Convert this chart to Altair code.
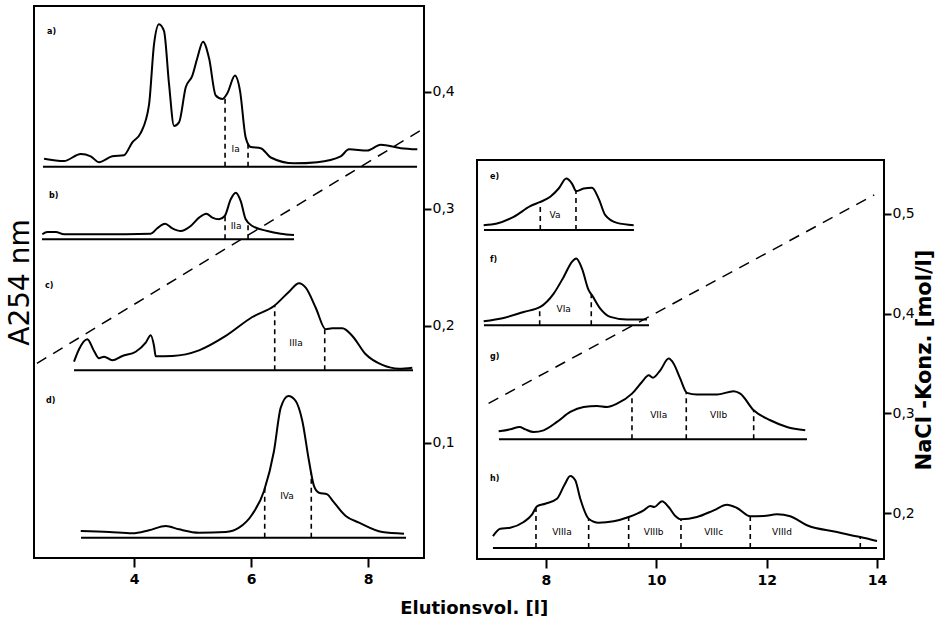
import altair as alt
import pandas as pd

# ---------------- left panel (a-d) ----------------
a_x = [2.462, 2.803, 3.089, 3.260, 3.402, 3.629, 3.829, 3.971, 4.115, 4.256, 4.342, 4.427, 4.513, 4.598,
       4.684, 4.769, 4.884, 4.997, 5.082, 5.179, 5.282, 5.397, 5.509, 5.595, 5.726, 5.812, 5.909, 5.995,
       6.166, 6.337, 6.735, 7.133, 7.533, 7.675, 7.988, 8.217, 8.559, 8.843]
a_y = [0.343, 0.341, 0.347, 0.345, 0.340, 0.345, 0.346, 0.357, 0.365, 0.389, 0.441, 0.458, 0.452, 0.407,
       0.371, 0.374, 0.404, 0.414, 0.429, 0.443, 0.429, 0.397, 0.394, 0.399, 0.414, 0.401, 0.361, 0.353,
       0.352, 0.344, 0.339, 0.340, 0.345, 0.351, 0.350, 0.355, 0.352, 0.351]

b_x = [2.432, 2.518, 2.662, 2.803, 3.431, 4.285, 4.398, 4.530, 4.655, 4.798, 4.969, 5.111, 5.236, 5.338,
       5.453, 5.550, 5.653, 5.738, 5.824, 5.909, 6.022, 6.279, 6.508, 6.735]
b_y = [0.2784, 0.2803, 0.2803, 0.2784, 0.2784, 0.2789, 0.2835, 0.2874, 0.2835, 0.2812, 0.2855, 0.2926,
       0.2960, 0.2926, 0.2912, 0.2940, 0.3083, 0.3139, 0.3068, 0.2912, 0.2855, 0.2812, 0.2789, 0.2778]

c_x = [2.974, 3.060, 3.202, 3.316, 3.402, 3.487, 3.629, 3.800, 4.029, 4.200, 4.285, 4.342, 4.371, 4.655,
       5.111, 5.568, 6.022, 6.393, 6.650, 6.821, 6.935, 7.106, 7.277, 7.390, 7.561, 7.732, 7.961, 8.244,
       8.530, 8.757]
c_y = [0.1695, 0.1801, 0.1886, 0.1786, 0.1724, 0.1738, 0.1707, 0.1744, 0.1780, 0.1857, 0.1921, 0.1829,
       0.1741, 0.1744, 0.1792, 0.1915, 0.2077, 0.2171, 0.2293, 0.2365, 0.2327, 0.2156, 0.1972, 0.1980,
       0.1980, 0.1915, 0.1758, 0.1667, 0.1635, 0.1644]

d_x = [3.089, 3.573, 3.971, 4.256, 4.542, 4.769, 5.111, 5.568, 5.795, 6.022, 6.222, 6.393, 6.508, 6.638,
       6.764, 6.877, 6.991, 7.077, 7.162, 7.304, 7.390, 7.619, 7.846, 8.244, 8.615]
d_y = [0.0248, 0.0239, 0.0228, 0.0254, 0.0291, 0.0262, 0.0233, 0.0239, 0.0276, 0.0391, 0.0590, 0.0932,
       0.1302, 0.1402, 0.1359, 0.1188, 0.0846, 0.0632, 0.0575, 0.0561, 0.0510, 0.0376, 0.0319, 0.0239,
       0.0225]

# baselines: start, end, level
left_base_start = [2.444, 2.427, 2.974, 3.094]
left_base_end = [8.838, 6.735, 8.769, 8.650]
left_base_level = [0.336, 0.2741, 0.1621, 0.0191]

# fraction cut marks: x, baseline, top
left_cut_x = [5.556, 5.949, 5.556, 5.949, 6.405, 7.260, 6.234, 7.030]
left_cut_low = [0.336, 0.336, 0.2741, 0.2741, 0.1621, 0.1621, 0.0191, 0.0191]
left_cut_top = [0.396, 0.357, 0.295, 0.289, 0.2175, 0.199, 0.062, 0.075]

left_frac_text = ["Ia", "IIa", "IIIa", "IVa"]
left_frac_x = [5.738, 5.744, 6.769, 6.615]
left_frac_y = [0.3513, 0.2855, 0.1857, 0.0547]

left_letters = ["a)", "b)", "c)", "d)"]
left_letter_x = [2.513, 2.547, 2.479, 2.496]
left_letter_y = [0.4515, 0.3111, 0.2342, 0.1359]

nacl_left_x = [2.34, 8.957]
nacl_left_y = [0.168, 0.369]

# ---------------- right panel (e-h) ----------------
e_x = [6.871, 7.112, 7.415, 7.715, 7.897, 8.078, 8.230, 8.368, 8.471, 8.549, 8.683, 8.834, 8.955, 9.075,
       9.287, 9.590]
e_y = [0.4887, 0.4903, 0.4970, 0.5077, 0.5120, 0.5171, 0.5254, 0.5354, 0.5304, 0.5228, 0.5254, 0.5261,
       0.5153, 0.4987, 0.4910, 0.4887]

f_x = [6.871, 7.233, 7.596, 7.897, 8.140, 8.321, 8.471, 8.549, 8.653, 8.774, 8.834, 8.984, 9.166, 9.468,
       9.831]
f_y = [0.3924, 0.3957, 0.4017, 0.4067, 0.4201, 0.4368, 0.4519, 0.4552, 0.4451, 0.4235, 0.4185, 0.4050,
       0.3967, 0.3940, 0.3940]

g_x = [7.143, 7.353, 7.523, 7.625, 7.777, 7.958, 8.199, 8.440, 8.683, 8.924, 9.106, 9.287, 9.559, 9.740,
       9.862, 9.939, 10.072, 10.224, 10.315, 10.434, 10.556, 10.737, 11.100, 11.402, 11.522, 11.765,
       12.066, 12.368, 12.700]
g_y = [0.2820, 0.2840, 0.2864, 0.2840, 0.2813, 0.2830, 0.2914, 0.3014, 0.3064, 0.3074, 0.3064, 0.3097,
       0.3198, 0.3315, 0.3382, 0.3358, 0.3432, 0.3549, 0.3498, 0.3348, 0.3205, 0.3188, 0.3188, 0.3222,
       0.3198, 0.3031, 0.2931, 0.2864, 0.2830]

h_x = [7.039, 7.172, 7.353, 7.596, 7.746, 7.837, 7.987, 8.199, 8.332, 8.440, 8.531, 8.622, 8.774, 8.955,
       9.227, 9.499, 9.771, 9.891, 9.963, 10.103, 10.224, 10.344, 10.447, 10.737, 11.040, 11.281, 11.462,
       11.703, 11.946, 12.187, 12.428, 12.731, 13.275, 13.697, 14.000]
h_y = [0.1770, 0.1844, 0.1854, 0.1911, 0.1984, 0.2068, 0.2094, 0.2144, 0.2279, 0.2372, 0.2329, 0.2144,
       0.1944, 0.1904, 0.1918, 0.1961, 0.2028, 0.2071, 0.2061, 0.2118, 0.2061, 0.1971, 0.1938, 0.1961,
       0.2028, 0.2084, 0.2051, 0.1968, 0.1971, 0.1988, 0.1968, 0.1878, 0.1810, 0.1760, 0.1720]

right_base_start = [6.876, 6.876, 7.148, 7.039]
right_base_end = [9.595, 9.867, 12.731, 14.0]
right_base_level = [0.4837, 0.3884, 0.2740, 0.1650]

right_cut_x = [7.897, 8.544, 7.886, 8.821, 9.559, 10.543, 11.765,
               7.819, 8.774, 9.499, 10.447, 11.703, 13.697]
right_cut_low = [0.4837, 0.4837, 0.3884, 0.3884, 0.2740, 0.2740, 0.2740,
                 0.1650, 0.1650, 0.1650, 0.1650, 0.1650, 0.1650]
right_cut_top = [0.512, 0.523, 0.407, 0.419, 0.320, 0.321, 0.303,
                 0.205, 0.194, 0.196, 0.194, 0.197, 0.176]

right_frac_text = ["Va", "VIa", "VIIa", "VIIb", "VIIIa", "VIIIb", "VIIIc", "VIIId"]
right_frac_x = [8.163, 8.321, 10.043, 11.130, 8.290, 9.952, 11.040, 12.278]
right_frac_y = [0.4990, 0.4050, 0.2981, 0.2981, 0.1810, 0.1810, 0.1810, 0.1810]

right_letters = ["e)", "f)", "g)", "h)"]
right_letter_x = [6.985, 6.985, 6.985, 6.985]
right_letter_y = [0.5371, 0.4539, 0.3566, 0.2342]

nacl_right_x = [6.96, 13.95]
nacl_right_y = [0.31, 0.519]

left_xticks = [4, 6, 8]
right_xticks = [8, 10, 12, 14]
left_yticks = [0.1, 0.2, 0.3, 0.4]
right_yticks = [0.2, 0.3, 0.4, 0.5]

L_XDOM = [2.29, 8.957]
L_YDOM = [0.0017, 0.4735]
R_XDOM = [6.75, 14.127]
R_YDOM = [0.154, 0.554]

FONT = "DejaVu Sans"


def traces(names, xs_list, ys_list):
    rows = []
    for n, xs, ys in zip(names, xs_list, ys_list):
        for i, (xv, yv) in enumerate(zip(xs, ys)):
            rows.append({"trace": n, "i": i, "x": xv, "y": yv})
    return pd.DataFrame(rows)


def panel(trace_df, base_df, cut_df, frac_df, let_df, nacl_df, xdom, ydom, xticks, yticks,
          w, h, left_title, right_title, right_title_pad):
    xaxis = alt.Axis(values=xticks, domain=False, grid=False, ticks=True, tickSize=9, tickWidth=2,
                     tickColor="black", labelFontSize=14, labelFontWeight="bold", labelFont=FONT,
                     labelColor="black", labelPadding=5, title=None)
    X = alt.X("x:Q", scale=alt.Scale(domain=xdom, nice=False, zero=False), axis=xaxis)
    ysc = alt.Scale(domain=ydom, nice=False, zero=False)

    if left_title:
        yaxis_tr = alt.Axis(orient="left", labels=False, ticks=False, domain=False, grid=False,
                            title=left_title, titleFontSize=28, titleFontWeight="normal",
                            titleFont=FONT, titleColor="black", titlePadding=0)
    else:
        yaxis_tr = None

    line = alt.Chart(trace_df).mark_line(color="black", strokeWidth=2, interpolate="monotone").encode(
        x=X, y=alt.Y("y:Q", scale=ysc, axis=yaxis_tr), detail="trace:N", order="i:Q")

    base = alt.Chart(base_df).mark_rule(color="black", strokeWidth=2).encode(
        x=X, x2="x2:Q", y=alt.Y("y:Q", scale=ysc, axis=None))

    cuts = alt.Chart(cut_df).mark_rule(color="black", strokeWidth=1.6, strokeDash=[5, 4]).encode(
        x=X, y=alt.Y("low:Q", scale=ysc, axis=None), y2="top:Q")

    fr = alt.Chart(frac_df).mark_text(fontSize=9, font=FONT, color="black").encode(
        x=X, y=alt.Y("y:Q", scale=ysc, axis=None), text="t:N")

    le = alt.Chart(let_df).mark_text(fontSize=8, font=FONT, fontWeight="bold", color="black",
                                      align="left").encode(
        x=X, y=alt.Y("y:Q", scale=ysc, axis=None), text="t:N")

    raxis = alt.Axis(orient="right", values=yticks, domain=False, grid=False, tickSize=7, tickWidth=2,
                     tickColor="black", labelFontSize=14, labelFont=FONT, labelColor="black",
                     labelPadding=1, labelExpr="replace(format(datum.value, '.1f'), '.', ',')",
                     title=right_title if right_title else None, titleFontSize=21,
                     titleFontWeight="bold", titleFont=FONT, titleColor="black",
                     titleAngle=270, titlePadding=right_title_pad)
    nacl = alt.Chart(nacl_df).mark_line(color="black", strokeWidth=1.5, strokeDash=[11, 8],
                                        clip=True).encode(
        x=X, y=alt.Y("y:Q", scale=ysc, axis=raxis))

    return alt.layer(line, base, cuts, fr, le, nacl).resolve_scale(y="independent").properties(
        width=w, height=h)


left_tr = traces(["a", "b", "c", "d"], [a_x, b_x, c_x, d_x], [a_y, b_y, c_y, d_y])
right_tr = traces(["e", "f", "g", "h"], [e_x, f_x, g_x, h_x], [e_y, f_y, g_y, h_y])

left = panel(
    left_tr,
    pd.DataFrame({"x": left_base_start, "x2": left_base_end, "y": left_base_level}),
    pd.DataFrame({"x": left_cut_x, "low": left_cut_low, "top": left_cut_top}),
    pd.DataFrame({"x": left_frac_x, "y": left_frac_y, "t": left_frac_text}),
    pd.DataFrame({"x": left_letter_x, "y": left_letter_y, "t": left_letters}),
    pd.DataFrame({"x": nacl_left_x, "y": nacl_left_y}),
    L_XDOM, L_YDOM, left_xticks, left_yticks, 390, 552, "A254 nm", None, 0)

right = panel(
    right_tr,
    pd.DataFrame({"x": right_base_start, "x2": right_base_end, "y": right_base_level}),
    pd.DataFrame({"x": right_cut_x, "low": right_cut_low, "top": right_cut_top}),
    pd.DataFrame({"x": right_frac_x, "y": right_frac_y, "t": right_frac_text}),
    pd.DataFrame({"x": right_letter_x, "y": right_letter_y, "t": right_letters}),
    pd.DataFrame({"x": nacl_right_x, "y": nacl_right_y}),
    R_XDOM, R_YDOM, right_xticks, right_yticks, 407, 399, None, "NaCl -Konz.  [mol/l]", 20)

spacer = alt.Chart(pd.DataFrame({"v": [0]})).mark_point(opacity=0).encode(
    x=alt.X("v:Q", axis=None), y=alt.Y("v:Q", axis=None)
).properties(width=407, height=153, view=alt.ViewBackground(stroke=None))

chart = alt.hconcat(
    left,
    alt.vconcat(spacer, right, spacing=0),
    spacing=20,
).properties(
    title=alt.TitleParams("Elutionsvol. [l]", orient="bottom", anchor="middle", fontSize=18,
                          fontWeight="bold", font=FONT, color="black", offset=12, dx=4),
    background="white",
).configure_view(stroke="black", strokeWidth=2)

chart.save("out.html", embed_options={"renderer": "svg", "actions": False})
